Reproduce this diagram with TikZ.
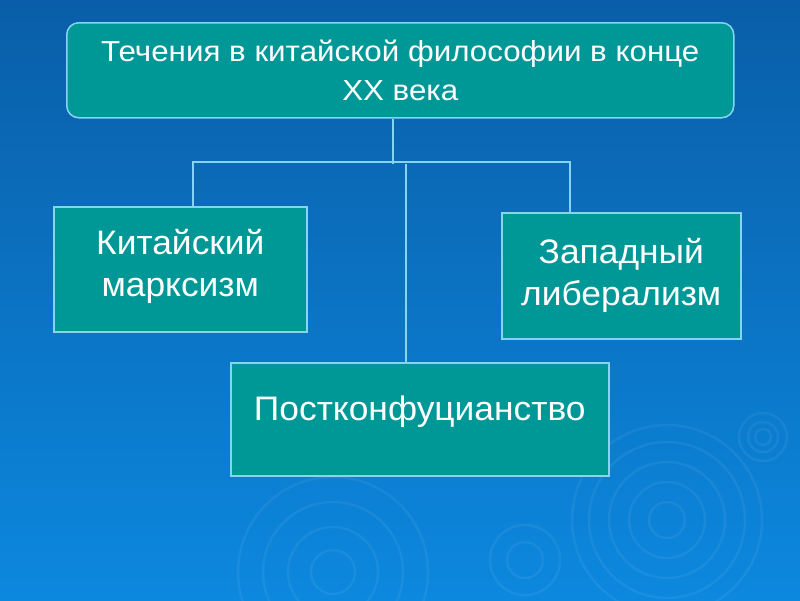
\documentclass[tikz,border=0pt]{standalone}
\usepackage{fontspec}
\setmainfont{Liberation Sans}
\newfontfamily\boxfont[FakeStretch=1.04]{Liberation Sans}
\newfontfamily\headfont[FakeStretch=1.08]{Liberation Sans}

\definecolor{bgtop}{RGB}{10,94,168}
\definecolor{bgbot}{RGB}{12,136,222}
\definecolor{boxfill}{RGB}{0,152,150}
\definecolor{boxline}{RGB}{135,212,240}

\tikzset{
box/.style={draw=boxline,line width=1.5,fill=boxfill,text=white,align=center,inner sep=0pt,anchor=north west},
bigtext/.style={font=\boxfont\fontsize{34}{42}\selectfont},
link/.style={draw=boxline,line width=1.2},
ripple/.style={draw=white,opacity=0.06,line width=2.5}
}

\begin{document}
\begin{tikzpicture}[x=1pt,y=-1pt]

\shade[top color=bgtop,bottom color=bgbot] (0,0) rectangle (800,600);
\useasboundingbox (0,0) rectangle (800,600);

\foreach \r in {8,15,24}
{
\draw[ripple] (763,437) circle (\r);
}
\foreach \r in {18,38,58,78,95}
{
\draw[ripple] (667,520) circle (\r);
}
\foreach \r in {22,45,70,95}
{
\draw[ripple] (333,572) circle (\r);
}
\foreach \r in {18,35}
{
\draw[ripple] (525,560) circle (\r);
}

\node[box,rounded corners=12,minimum width=667,minimum height=95,font=\headfont\fontsize{29}{39}\selectfont,text height=65,text depth=4] (title) at (66,22) {Течения в китайской философии в конце\\XX века};
\node[box,bigtext,minimum width=253,minimum height=125,text height=62,text depth=7] (marx) at (53,206) {Китайский\\марксизм};
\node[box,bigtext,minimum width=239,minimum height=126,text height=66,text depth=6] (liber) at (501,212) {Западный\\либерализм};
\node[box,bigtext,minimum width=378,minimum height=113,text height=23,text depth=20] (post) at (230,362) {Постконфуцианство};

\draw[link] ([xshift=327]title.south west) -- ++(0,45) coordinate (bus);
\draw[link] ([xshift=140]marx.north west) -- ++(0,-44) -| ([xshift=69]liber.north west);
\draw[link] ([xshift=176]post.north west) -- ([xshift=176]post.north west |- bus);
\end{tikzpicture}
\end{document}
